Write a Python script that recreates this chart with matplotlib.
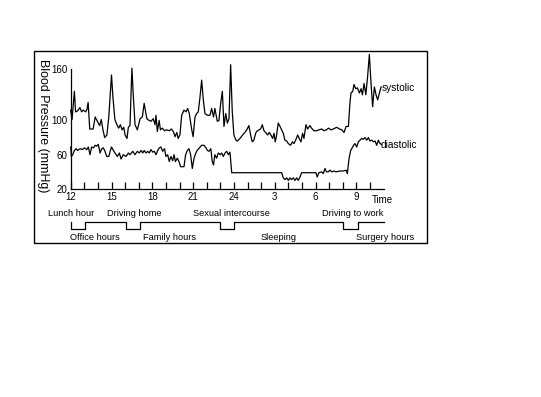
import numpy as np
import matplotlib
matplotlib.use("Agg")
import matplotlib.pyplot as plt
from matplotlib.patches import Rectangle
from matplotlib.transforms import blended_transform_factory

plt.rcParams['font.family'] = ['Liberation Sans', 'DejaVu Sans']

# hours past midnight of day 1 (24 = midnight, 33 = 9 am next day)
sys_t = [12.0, 12.1, 12.2, 12.27, 12.36, 12.5, 12.68, 12.8, 12.92, 13.1, 13.2, 13.28,
         13.4, 13.65, 13.8, 13.96, 14.13, 14.25, 14.37, 14.5, 14.66, 14.8, 15.0, 15.1,
         15.25, 15.4, 15.53, 15.65, 15.78, 15.9, 16.0, 16.14, 16.24, 16.36, 16.5, 16.6,
         16.73, 16.9, 17.1, 17.27, 17.4, 17.6, 17.76, 17.9, 18.07, 18.2, 18.27, 18.37,
         18.5, 18.6, 18.74, 18.9, 19.05, 19.25, 19.4, 19.55, 19.67, 19.8, 19.9, 20.03,
         20.16, 20.33, 20.48, 20.6, 20.72, 20.9, 21.0, 21.14, 21.26, 21.38, 21.5, 21.63,
         21.75, 21.87, 22.05, 22.24, 22.36, 22.5, 22.6, 22.78, 22.9, 23.03, 23.15, 23.27,
         23.4, 23.52, 23.64, 23.76, 23.88, 24.0, 24.15, 24.25, 24.45, 24.64, 24.81, 24.98,
         25.1, 25.23, 25.35, 25.47, 25.6, 25.67, 25.84, 25.96, 26.09, 26.21, 26.33, 26.48,
         26.6, 26.72, 26.85, 26.95, 27.04, 27.14, 27.26, 27.39, 27.51, 27.63, 27.75, 27.88,
         28.0, 28.17, 28.3, 28.42, 28.54, 28.69, 28.8, 28.93, 29.05, 29.15, 29.3, 29.42,
         29.59, 29.71, 29.88, 30.08, 30.25, 30.45, 30.62, 30.8, 30.96, 31.14, 31.3, 31.56,
         31.76, 31.93, 32.1, 32.25, 32.42, 32.54, 32.61, 32.74, 32.83, 32.96, 33.08, 33.23,
         33.35, 33.45, 33.57, 33.7, 33.82, 33.96, 34.06, 34.2, 34.33, 34.45, 34.57, 34.7,
         34.82]
sys_v = [112, 101, 120, 134, 110, 111, 115, 110, 112, 110, 113, 121,
         90, 90, 104, 99, 94, 101, 89, 80, 83, 104, 153, 128,
         101, 95, 91, 95, 89, 92, 83, 79, 92, 94, 161, 130,
         95, 89, 102, 104, 120, 102, 100, 99, 102, 95, 106, 87,
         100, 89, 91, 88, 89, 88, 90, 87, 81, 86, 79, 83,
         106, 112, 110, 114, 108, 89, 81, 104, 108, 110, 126, 147,
         124, 108, 106, 106, 114, 104, 114, 99, 100, 120, 134, 93,
         108, 97, 102, 165, 110, 83, 77, 76, 79, 83, 86, 90,
         94, 83, 75, 77, 85, 87, 89, 90, 95, 88, 86, 83,
         86, 83, 79, 85, 75, 83, 97, 93, 89, 85, 77, 76,
         73, 71, 75, 73, 77, 83, 79, 75, 85, 79, 95, 90,
         94, 91, 88, 88, 89, 90, 88, 89, 91, 89, 90, 92,
         90, 89, 86, 93, 93, 122, 132, 134, 142, 137, 138, 132,
         137, 130, 143, 130, 149, 177, 149, 116, 139, 130, 124, 132,
         139]

dia_t = [12.0, 12.05, 12.15, 12.27, 12.4, 12.5, 12.7, 12.86, 13.0, 13.18, 13.3, 13.42,
         13.54, 13.67, 13.8, 13.9, 14.03, 14.16, 14.28, 14.4, 14.52, 14.65, 14.8, 14.9,
         15.0, 15.14, 15.26, 15.43, 15.58, 15.7, 15.87, 16.07, 16.24, 16.36, 16.56, 16.73,
         16.9, 17.05, 17.17, 17.3, 17.4, 17.54, 17.66, 17.78, 17.9, 18.03, 18.15, 18.27,
         18.4, 18.52, 18.64, 18.76, 18.9, 19.0, 19.13, 19.25, 19.37, 19.5, 19.6, 19.7,
         19.84, 19.96, 20.08, 20.33, 20.45, 20.58, 20.7, 20.82, 20.94, 21.07, 21.2, 21.3,
         21.46, 21.63, 21.8, 21.95, 22.05, 22.17, 22.3, 22.41, 22.5, 22.6, 22.73, 22.85,
         23.0, 23.1, 23.22, 23.35, 23.47, 23.6, 23.71, 23.84, 27.51, 27.63, 27.75, 27.88,
         28.0, 28.12, 28.24, 28.37, 28.49, 28.61, 28.73, 28.86, 28.98, 30.03, 30.13, 30.25,
         30.45, 30.57, 30.7, 30.8, 30.94, 31.06, 31.2, 31.36, 31.5, 31.8, 32.05, 32.25,
         32.34, 32.47, 32.59, 32.66, 32.8, 32.9, 33.03, 33.15, 33.28, 33.4, 33.52, 33.64,
         33.77, 33.89, 34.0, 34.13, 34.26, 34.38, 34.5, 34.62, 34.75, 34.87]
dia_v = [69, 58, 60, 65, 67, 65, 67, 66, 68, 66, 69, 60,
         69, 68, 71, 70, 72, 62, 67, 68, 64, 58, 58, 64,
         69, 65, 62, 58, 62, 55, 60, 58, 62, 60, 64, 60,
         64, 62, 65, 62, 65, 62, 64, 62, 66, 63, 64, 60,
         65, 68, 69, 64, 67, 58, 60, 52, 58, 53, 60, 52,
         56, 52, 46, 46, 60, 65, 67, 60, 44, 56, 62, 65,
         68, 71, 71, 68, 65, 64, 67, 52, 48, 60, 56, 62,
         60, 62, 58, 62, 64, 60, 63, 39, 39, 33, 31, 33,
         30, 33, 31, 33, 30, 33, 30, 34, 39, 39, 34, 39,
         40, 38, 44, 40, 40, 42, 40, 41, 40, 41, 41, 42,
         38, 56, 65, 67, 71, 73, 69, 75, 77, 79, 78, 80,
         77, 80, 76, 77, 75, 76, 71, 77, 73, 72]

hour_ticks = list(range(12, 35))
label_ticks = [12, 15, 18, 21, 24, 27, 30, 33]
label_text = ['12', '15', '18', '21', '24', '3', '6', '9']
y_ticks = [20, 60, 100, 160]

# activity periods: step line below the axis (low = upper-row label)
step_t = [12, 13.05, 16.05, 17.1, 23.0, 24.0, 32.0, 33.1, 35.0]
step_low = [True, False, True, False, True, False, True, False]
upper_labels = [('Lunch hour', 12.05), ('Driving home', 16.7),
                ('Sexual intercourse', 23.8), ('Driving to work', 32.7)]
lower_labels = [('Office hours', 13.8), ('Family hours', 19.3),
                ('Sleeping', 27.3), ('Surgery hours', 35.1)]

W, H = 541, 397
fig = plt.figure(figsize=(W / 100, H / 100), dpi=100)
ax = fig.add_axes([70.7 / W, 1 - 189 / H, (383.5 - 70.7) / W, 120 / H])

ax.plot(sys_t, sys_v, color='black', lw=0.9, clip_on=False)
ax.plot(dia_t, dia_v, color='black', lw=0.9, clip_on=False)

ax.set_xlim(12, 35)
ax.set_ylim(20, 160)
for s in ['top', 'right']:
    ax.spines[s].set_visible(False)
ax.spines['left'].set_linewidth(0.9)
ax.spines['bottom'].set_linewidth(0.9)

ax.set_xticks(hour_ticks)
ax.set_xticklabels(['' if h not in label_ticks else label_text[label_ticks.index(h)]
                    for h in hour_ticks])
ax.tick_params(axis='x', direction='in', length=5, width=0.9, pad=2, labelsize=7)
ax.set_yticks(y_ticks)
ax.tick_params(axis='y', length=0, pad=2.5, labelsize=7)

ax.text(34.85, 138, 'systolic', fontsize=7.3, va='center', ha='left')
ax.text(34.8, 71, 'diastolic', fontsize=7.3, va='center', ha='left')

tr = blended_transform_factory(ax.transData, fig.transFigure)
ax.text(34.9, 1 - 200 / H, 'Time', fontsize=7, va='center', ha='center',
        transform=tr)

fig.text(43 / W, 1 - 126 / H, 'Blood Pressure (mmHg)', rotation=270,
         fontsize=8.9, ha='center', va='center')

y_hi = 1 - 221.7 / H
y_lo = 1 - 229 / H
xs, ys = [], []
for i, low in enumerate(step_low):
    y = y_lo if low else y_hi
    xs += [step_t[i], step_t[i + 1]]
    ys += [y, y]
xs = [step_t[0]] + xs
ys = [y_hi] + ys
ax.plot(xs, ys, color='black', lw=0.9, transform=tr, clip_on=False)

for txt, t in upper_labels:
    ax.text(t, 1 - 214 / H, txt, transform=tr, fontsize=6.7, ha='center',
            va='center')
for txt, t in lower_labels:
    ax.text(t, 1 - 237 / H, txt, transform=tr, fontsize=6.7, ha='center',
            va='center')

fig.patches.append(Rectangle((34 / W, 1 - 243 / H), (427 - 34) / W, (243 - 51) / H,
                             transform=fig.transFigure, fill=False, lw=1,
                             edgecolor='black'))

fig.savefig('out.png', dpi=100)
